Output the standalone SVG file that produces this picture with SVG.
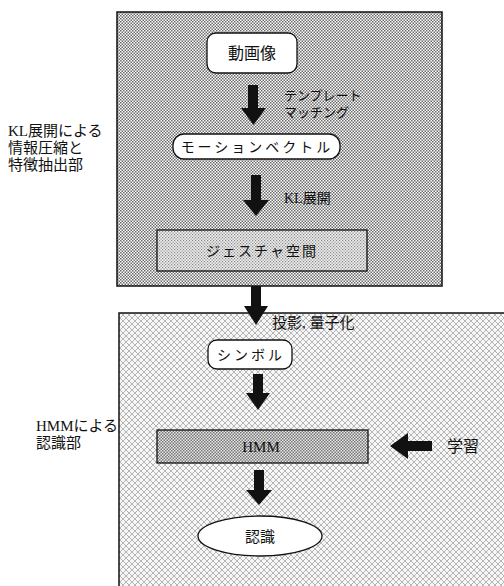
<svg xmlns="http://www.w3.org/2000/svg" width="504" height="586" viewBox="0 0 504 586">
<style>
.t{font-family:"Liberation Serif","Noto Sans CJK JP",serif;fill:#111}
.lbl{font-size:15px}
.c{text-anchor:middle}
.node{stroke:#111;stroke-width:1.3}
.arr{fill:#111}
</style>
<defs>
<pattern id="pTop" width="3" height="3" patternUnits="userSpaceOnUse">
<rect width="3" height="3" fill="#fff"/>
<rect x="0" y="0" width="1.5" height="1.5" fill="#6a6a6a"/>
<rect x="1.5" y="1.5" width="1.5" height="1.5" fill="#6a6a6a"/>
</pattern>
<pattern id="pBot" width="6" height="6" patternUnits="userSpaceOnUse">
<rect width="6" height="6" fill="#f6f6f6"/>
<path d="M0,0 L6,6 M6,0 L0,6" stroke="#999" stroke-width="0.7"/>
</pattern>
<pattern id="pLight" width="3" height="3" patternUnits="userSpaceOnUse">
<rect width="3" height="3" fill="#eee"/>
<rect x="0" y="0" width="1.2" height="1.2" fill="#888"/>
<rect x="1.5" y="1.5" width="1.2" height="1.2" fill="#888"/>
</pattern>
<pattern id="pHmm" width="3" height="3" patternUnits="userSpaceOnUse">
<rect width="3" height="3" fill="#e6e6e6"/>
<rect x="0" y="0" width="1.5" height="1.5" fill="#777"/>
<rect x="1.5" y="1.5" width="1.5" height="1.5" fill="#777"/>
</pattern>
</defs>

<g id="panel-feature">
<rect x="117" y="12" width="325" height="274" fill="url(#pTop)" stroke="#111" stroke-width="1.5"/>
</g>
<g id="panel-recognition">
<rect x="119" y="313" width="400" height="290" fill="url(#pBot)" stroke="#111" stroke-width="1.5"/>
</g>

<g id="label-feature">
<text class="t lbl" x="8" y="136">KL展開による</text>
<text class="t lbl" x="8" y="153">情報圧縮と</text>
<text class="t lbl" x="8" y="170">特徴抽出部</text>
</g>
<g id="label-recognition">
<text class="t lbl" x="36" y="431">HMMによる</text>
<text class="t lbl" x="36" y="448">認識部</text>
</g>

<g id="node-video">
<rect class="node" x="207" y="33" width="90" height="40" rx="9" fill="#fff"/>
<text class="t c" x="252" y="59" font-size="16">動画像</text>
</g>
<g id="node-motion">
<rect class="node" x="173" y="134" width="167" height="25" rx="11" fill="#fff"/>
<text class="t c" x="257" y="152" font-size="14" letter-spacing="3">モーションベクトル</text>
</g>
<g id="node-gesture">
<rect class="node" x="157" y="230" width="210" height="41" fill="url(#pLight)" stroke-width="1"/>
<text class="t c" x="262" y="256" font-size="14" letter-spacing="2">ジェスチャ空間</text>
</g>
<g id="node-symbol">
<rect class="node" x="208" y="340" width="84" height="29" rx="9" fill="#fff"/>
<text class="t c" x="251" y="360" font-size="14" letter-spacing="3">シンボル</text>
</g>
<g id="node-hmm">
<rect class="node" x="157" y="430" width="211" height="33" fill="url(#pHmm)" stroke-width="1"/>
<text class="t c" x="261" y="452" font-size="15">HMM</text>
</g>
<g id="node-recog">
<ellipse class="node" cx="260" cy="536" rx="62" ry="20" fill="#fff"/>
<text class="t c" x="260" y="542" font-size="15">認識</text>
</g>
<g id="node-learn">
<text class="t" x="447" y="452" font-size="16">学習</text>
</g>

<g id="connectors">
<rect class="arr" x="248" y="85" width="10" height="24"/>
<polygon class="arr" points="241,108 266,108 253.5,125"/>
<rect class="arr" x="251" y="175" width="10" height="26"/>
<polygon class="arr" points="243,200 269,200 256,216"/>
<rect class="arr" x="251" y="286" width="10" height="21"/>
<polygon class="arr" points="244,306 268,306 256,325"/>
<rect class="arr" x="253" y="374" width="10" height="20"/>
<polygon class="arr" points="246,393 270,393 258,410"/>
<rect class="arr" x="254" y="470" width="10" height="21"/>
<polygon class="arr" points="246,490 272,490 259,505"/>
<rect class="arr" x="406" y="441" width="26" height="10"/>
<polygon class="arr" points="408,433 408,459 390,446"/>
<text class="t" x="284" y="100" font-size="13" fill="#333">テンプレート</text>
<text class="t" x="284" y="117" font-size="13" fill="#333">マッチング</text>
<text class="t" x="284" y="203" font-size="14">KL展開</text>
<text class="t" x="272" y="328" font-size="15">投影, 量子化</text>
</g>
</svg>
